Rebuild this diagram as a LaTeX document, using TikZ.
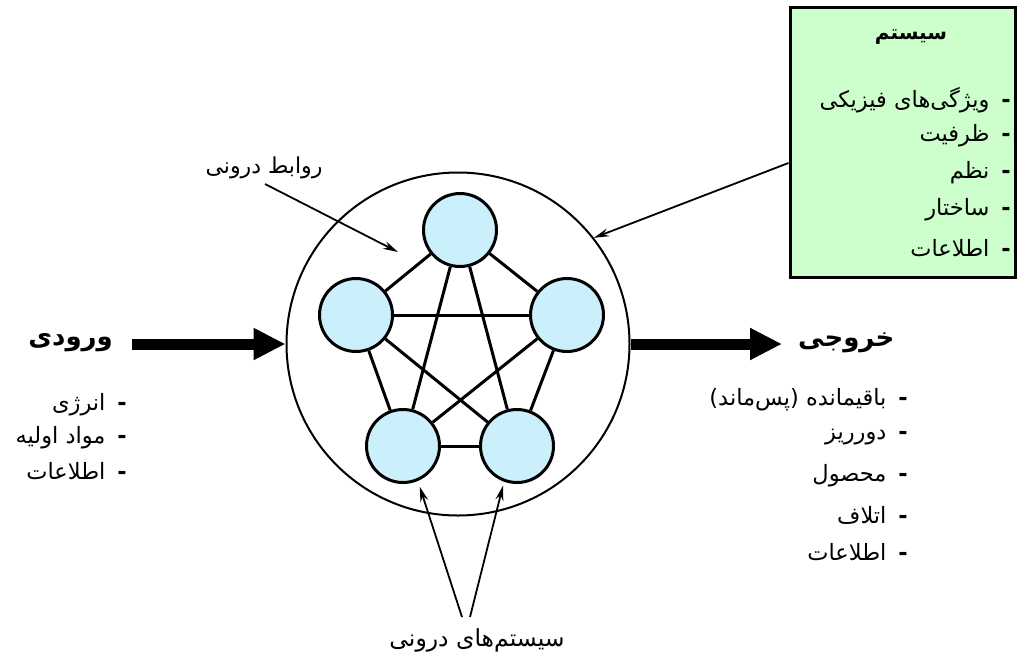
\documentclass[tikz,border=0pt]{standalone}
\usepackage{fontspec}
\usetikzlibrary{arrows.meta,calc}
\TeXXeTstate=1
\newfontfamily\fa[Script=Arabic]{DejaVu Sans}
\newcommand\bul{{\bfseries -}\hspace{12pt}}
\tikzset{
  sub/.style={circle,draw,line width=3pt,fill=cyan!20,minimum size=73pt,inner sep=0pt},
  link/.style={line width=3pt},
  flow/.style={line width=11pt,-{Triangle[length=32pt,width=30pt]}},
  pointer/.style={line width=1.8pt,-{Stealth[length=15pt,width=8pt]}},
  item/.style={anchor=east,inner sep=0pt,font=\fa\fontsize{22.5}{26}\selectfont},
  head/.style={inner sep=0pt,font=\fa\bfseries\fontsize{26}{30}\selectfont},
  note/.style={inner sep=0pt,font=\fa\fontsize{22}{26}\selectfont}
}
\begin{document}
\begin{tikzpicture}[x=1pt,y=-1pt]
\useasboundingbox (0,0) rectangle (1017,657);

% the system boundary and its five subsystems
\node[circle,draw,line width=2pt,minimum size=343pt,inner sep=0pt] (big) at (458,344) {};
\node[sub] (n1) at (460,230) {};
\node[sub] (n2) at (356,315) {};
\node[sub] (n3) at (567,315) {};
\node[sub] (n4) at (403,446) {};
\node[sub] (n5) at (517,446) {};
\foreach \a/\b in {n1/n2,n1/n3,n1/n4,n1/n5,n2/n3,n2/n4,n2/n5,n3/n4,n3/n5,n4/n5}
  \draw[link] (\a) -- (\b);

% input and output flows
\coordinate (inS) at (132,344);
\coordinate (outE) at (782,344);
\draw[flow] (inS) -- (big.west);
\draw[flow] (big.east) -- (outE);

\node[head,anchor=east] (inT) at (113,343) {\beginR ورودی\endR};
\node[head,anchor=west] (outT) at (798,343) {\beginR خروجی\endR};

\node[item] (i1) at (127,405) {\beginR \bul انرژی\endR};
\node[item] (i2) at (127,438) {\beginR \bul مواد اولیه\endR};
\node[item] (i3) at (127,471) {\beginR \bul اطلاعات\endR};

\node[item] (o1) at (908,400) {\beginR \bul باقیمانده (پس^^^^200cماند)\endR};
\node[item] (o2) at (908,437) {\beginR \bul دورریز\endR};
\node[item] (o3) at (908,476) {\beginR \bul محصول\endR};
\node[item] (o4) at (908,515) {\beginR \bul اتلاف\endR};
\node[item] (o5) at (908,552) {\beginR \bul اطلاعات\endR};

% properties box
\node[draw,line width=3pt,fill=green!20,minimum width=225pt,minimum height=270pt,inner sep=0pt] (box) at (902.5,142) {};
\node[head,font=\fa\bfseries\fontsize{20}{24}\selectfont] (boxT) at (911,37) {\beginR سیستم\endR};
\node[item] (b1) at (1011,100) {\beginR \bul ویژگی^^^^200cهای فیزیکی\endR};
\node[item] (b2) at (1011,136) {\beginR \bul ظرفیت\endR};
\node[item] (b3) at (1011,173) {\beginR \bul نظم\endR};
\node[item] (b4) at (1011,210) {\beginR \bul ساختار\endR};
\node[item] (b5) at (1011,248) {\beginR \bul اطلاعات\endR};
\draw[pointer] ($(box.west)+(0,21)$) -- (big.38);

% internal relations
\node[note] (rel) at (264,168) {\beginR روابط درونی\endR};
\coordinate (relE) at (398,252);
\draw[pointer] (265,184) -- (relE);

% internal subsystems
\node[note,font=\fa\fontsize{23.5}{27}\selectfont] (subs) at (477,640) {\beginR سیستم^^^^200cهای درونی\endR};
\coordinate (s1) at (462,617);
\coordinate (s2) at (470,617);
\draw[pointer,shorten >=6pt] (s1) -- (n4.-67);
\draw[pointer,shorten >=4pt] (s2) -- (n5.-110);
\end{tikzpicture}
\end{document}
